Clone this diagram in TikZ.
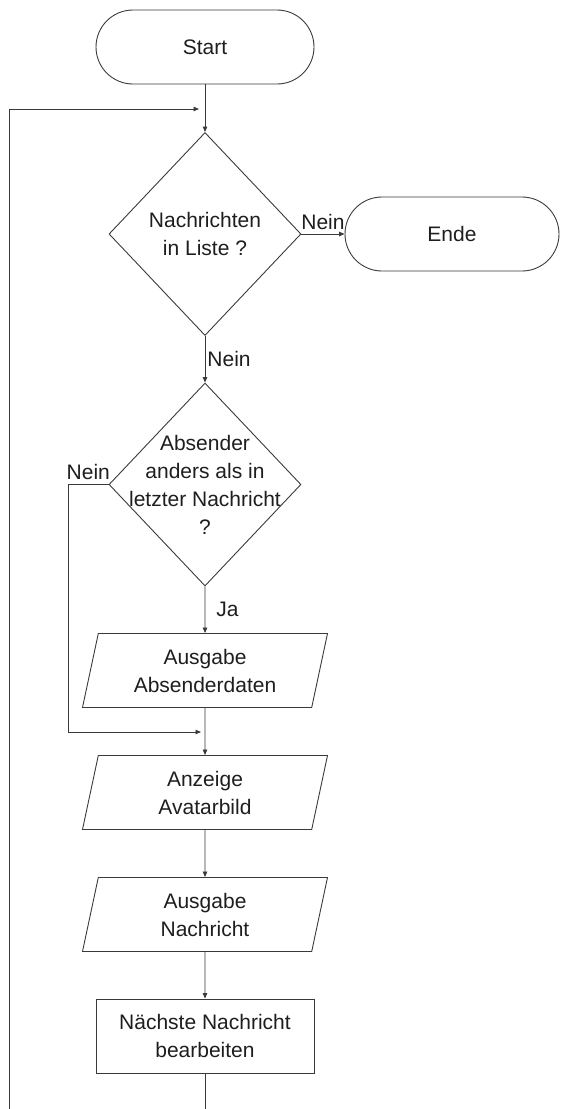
\documentclass[tikz,border=0pt]{standalone}
\usepackage{fontspec}
\setmainfont{Liberation Sans}
\usetikzlibrary{shapes.geometric,arrows.meta}
\definecolor{ln}{HTML}{3A3A3A}
\definecolor{tx}{HTML}{1E1E1E}
\begin{document}
\begin{tikzpicture}[x=1pt,y=-1pt,
  font=\fontsize{21}{28}\selectfont,
  every node/.style={text=tx},
  line/.style={draw=ln, line width=0.9pt},
  arr/.style={line, -{Triangle[length=5.5pt,width=4.5pt]}},
  term/.style={line, rectangle, rounded corners=37pt, minimum width=218pt, minimum height=74pt, inner sep=0pt},
  dec/.style={line, diamond, minimum width=192pt, minimum height=203pt, inner sep=0pt},
  io/.style={line, trapezium, trapezium left angle=70, trapezium right angle=110, trapezium stretches body, minimum width=245pt, minimum height=74pt, inner sep=0pt, align=center},
  proc/.style={line, rectangle, minimum width=218pt, minimum height=74pt, inner sep=0pt, align=center},
  lbl/.style={inner sep=2pt},
  toplbl/.style={inner sep=4pt},
  dtext/.style={align=center, inner sep=0pt}
]
\useasboundingbox (0,0) rectangle (560,1109);

\node[term] (start) at (205,47) {Start};
\node[dec, label={[dtext]center:Nachrichten\\in Liste ?}] (d1) at (205,234) {};
\node[term, minimum width=214pt] (ende) at (452,234) {Ende};
\node[dec, label={[dtext]center:Absender\\anders als in\\letzter Nachricht\\?}] (d2) at (205,484.5) {};
\node[io] (p1) at (205,670.5) {Ausgabe\\Absenderdaten};
\node[io] (p2) at (205,792.5) {Anzeige\\Avatarbild};
\node[io] (p3) at (205,914.5) {Ausgabe\\Nachricht};
\node[proc] (p4) at (205,1036) {Nächste Nachricht\\bearbeiten};

\coordinate (lb) at (9,1109);
\coordinate (lt) at (199,109);
\coordinate (nk) at (68,732);
\coordinate (nm) at (201,732);
\coordinate (pb) at (205,1109);

\draw[arr] (lb) |- (lt);
\draw[arr] (start.south) -- (d1.north);
\draw[arr] (d1.east) -- node[above, toplbl] {Nein} (ende.west);
\draw[arr] (d1.south) -- node[right, lbl] {Nein} (d2.north);
\draw[arr] (d2.west) -- node[above, toplbl] {Nein} (d2.west -| nk) -- (nk) -- (nm);
\draw[arr] (d2.south) -- node[right=10pt, inner sep=1pt] {Ja} (p1.north);
\draw[arr] (p1.south) -- (p2.north);
\draw[arr] (p2.south) -- (p3.north);
\draw[arr] (p3.south) -- (p4.north);
\draw[line] (p4.south) -- (pb);
\end{tikzpicture}
\end{document}
